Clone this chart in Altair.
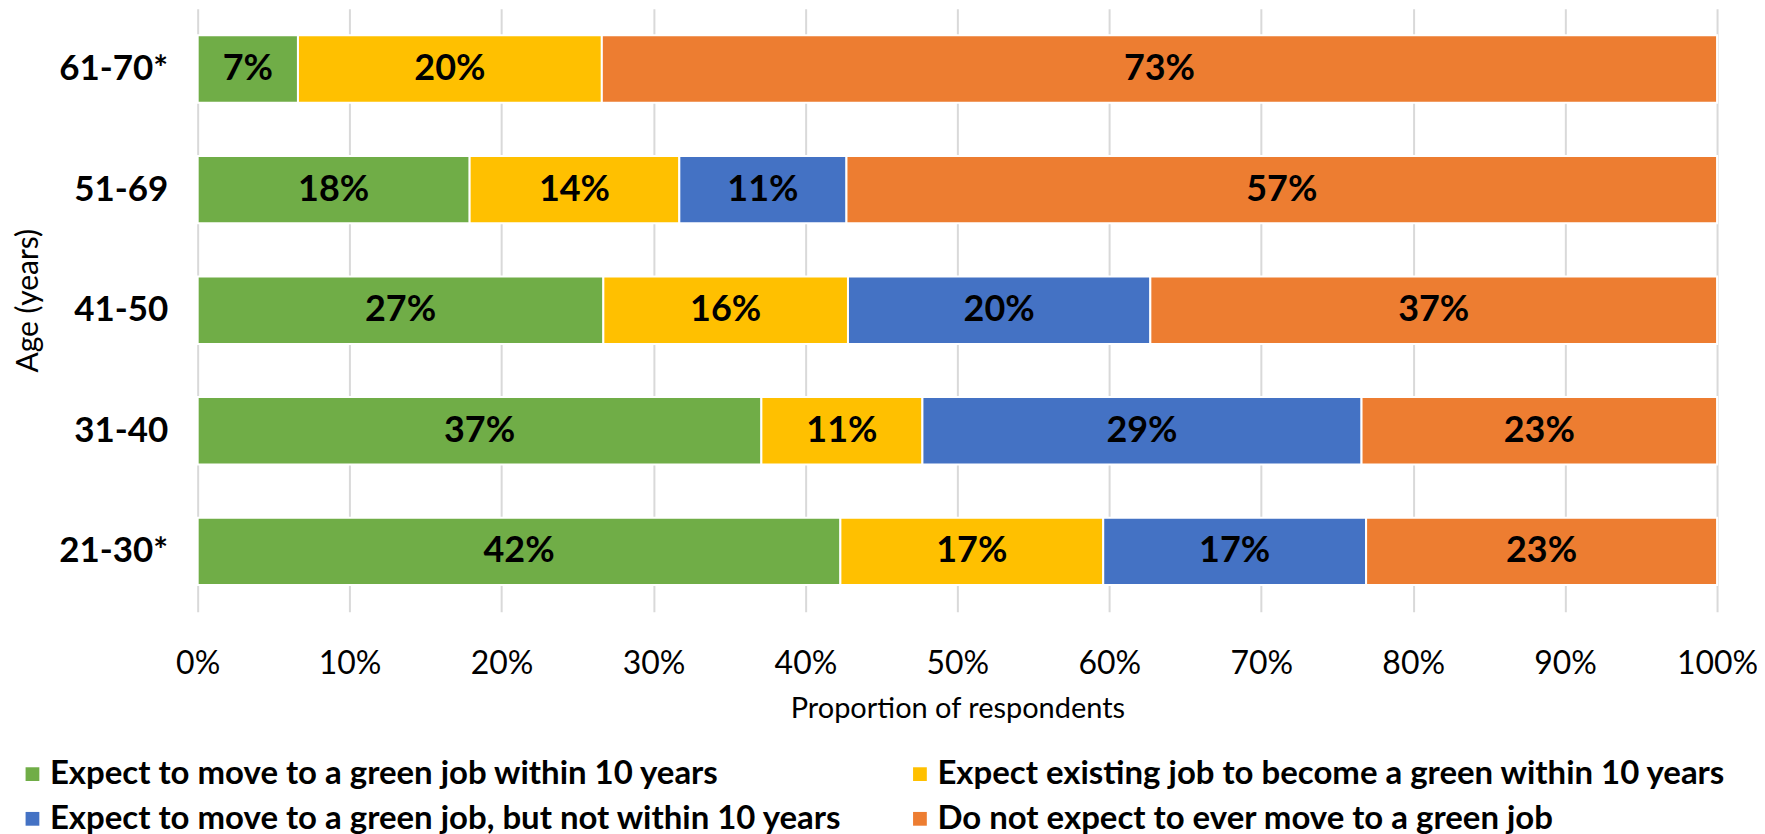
import altair as alt
import pandas as pd

ages = ["61-70*", "51-69", "41-50", "31-40", "21-30*"]
categories = [
    "Expect to move to a green job within 10 years",
    "Expect  existing job to become a green within 10 years",
    "Expect to move to a green job, but not within 10 years",
    "Do not expect to ever move to a green job",
]
colors = ["#70AD47", "#FFC000", "#4472C4", "#ED7D31"]
# legend fills column by column: green, blue | yellow, orange
legend_order = [0, 2, 1, 3]

move_within_10 = [6.6, 17.9, 26.7, 37.1, 42.3]
existing_becomes_green = [20.0, 13.8, 16.1, 10.6, 17.3]
move_later = [0.0, 11.0, 19.9, 28.9, 17.3]
never_move = [73.4, 57.3, 37.3, 23.4, 23.1]

series = [move_within_10, existing_becomes_green, move_later, never_move]
rows = []
for i, age in enumerate(ages):
    for k, cat in enumerate(categories):
        v = series[k][i]
        if v > 0:
            rows.append({"age": age, "cat": cat, "order": k, "value": v / 100.0})
df = pd.DataFrame(rows)

base = alt.Chart(df).transform_stack(
    stack="value", groupby=["age"], as_=["x0", "x1"], sort=[alt.SortField("order")]
).transform_calculate(
    mid="(datum.x0 + datum.x1) / 2",
    label="round(datum.value * 100) + '%'",
)

yenc = alt.Y(
    "age:N",
    sort=ages,
    scale=alt.Scale(paddingInner=0.441, paddingOuter=0.2205),
    axis=alt.Axis(
        title="Age (years)",
        labelFont="Lato",
        labelFontWeight="bold",
        labelFontSize=35,
        labelColor="black",
        labelPadding=30,
        ticks=False,
        domain=False,
        titleFont="Lato",
        titleFontWeight="normal",
        titleFontSize=30,
        titleColor="black",
        titleX=-154,
        titleY=292,
    ),
)

bars = base.mark_bar(stroke="white", strokeWidth=2).encode(
    x=alt.X(
        "x0:Q",
        scale=alt.Scale(domain=[0, 1], nice=False),
        axis=alt.Axis(
            title="Proportion of respondents",
            format=".0%",
            values=[i / 10 for i in range(11)],
            labelFont="Lato",
            labelFontSize=32,
            labelColor="black",
            labelPadding=37,
            labelFlush=False,
            ticks=False,
            domain=False,
            grid=True,
            gridColor="#d9d9d9",
            gridWidth=2,
            titleFont="Lato",
            titleFontWeight="normal",
            titleFontSize=29,
            titleColor="black",
            titlePadding=15,
        ),
    ),
    x2="x1:Q",
    y=yenc,
    color=alt.Color(
        "cat:N",
        scale=alt.Scale(
            domain=[categories[k] for k in legend_order],
            range=[colors[k] for k in legend_order],
        ),
        legend=alt.Legend(
            title=None,
            orient="none",
            legendX=-182,
            legendY=750,
            columns=2,
            labelFont="Lato",
            labelFontWeight="bold",
            labelFontSize=33,
            labelColor="black",
            labelLimit=1500,
            labelOffset=1,
            symbolType="square",
            symbolSize=190,
            symbolStrokeWidth=0,
            columnPadding=61,
            rowPadding=11,
        ),
    ),
)

texts = base.mark_text(
    font="Lato", fontWeight="bold", fontSize=36, color="black", baseline="middle"
).encode(
    x="mid:Q",
    y=alt.Y("age:N", sort=ages),
    text="label:N",
)

chart = (
    alt.layer(bars, texts)
    .properties(
        width=1522,
        height=604,
        autosize=alt.AutoSizeParams(type="none"),
        padding={"left": 190, "top": 0, "right": 40, "bottom": 228},
    )
    .configure_view(stroke=None)
)

chart.save("out.html", embed_options={"renderer": "svg", "actions": False})
